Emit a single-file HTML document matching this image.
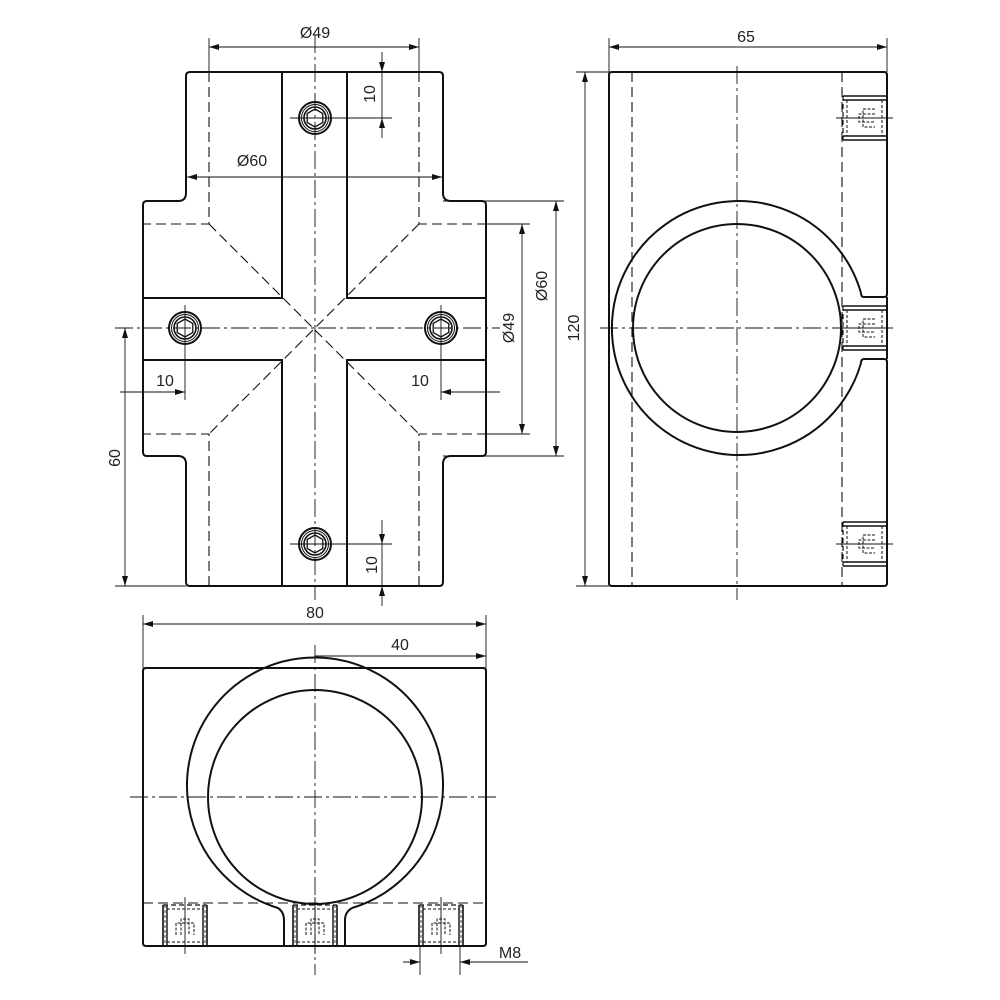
<!DOCTYPE html>
<html><head><meta charset="utf-8"><style>html,body{margin:0;padding:0;background:#fff}svg{display:block}</style></head>
<body>
<svg width="1000" height="1000" viewBox="0 0 1000 1000" xmlns="http://www.w3.org/2000/svg" font-family="Liberation Sans, sans-serif">
<defs>
<marker id="a" viewBox="0 0 10 6" refX="10" refY="3" markerWidth="10" markerHeight="6" orient="auto-start-reverse" markerUnits="userSpaceOnUse"><path d="M0,0L10,3L0,6z" fill="#111"/></marker>
<g id="bolt">
<circle r="16" fill="none" stroke="#111" stroke-width="2"/>
<circle r="13.5" fill="none" stroke="#111" stroke-width="1"/>
<circle r="11" fill="none" stroke="#111" stroke-width="1.6"/>
<polygon points="0,-9 7.8,-4.5 7.8,4.5 0,9 -7.8,4.5 -7.8,-4.5" fill="none" stroke="#111" stroke-width="1.3"/>
</g>
<g id="thrV" stroke="#111" fill="none">
<line x1="-22" y1="-20" x2="22" y2="-20" stroke-width="1.2" stroke-dasharray="5,3"/>
<line x1="-22" y1="-20" x2="-22" y2="21" stroke-width="1.6"/>
<line x1="22" y1="-20" x2="22" y2="21" stroke-width="1.6"/>
<line x1="-18" y1="-20" x2="-18" y2="21" stroke-width="1.4"/>
<line x1="18" y1="-20" x2="18" y2="21" stroke-width="1.4"/>
<line x1="-20" y1="-20" x2="-20" y2="21" stroke-width="0.8" stroke-dasharray="3,2"/>
<line x1="20" y1="-20" x2="20" y2="21" stroke-width="0.8" stroke-dasharray="3,2"/>
<line x1="-18" y1="-16" x2="18" y2="-16" stroke-width="1" stroke-dasharray="3,2"/>
<line x1="-18" y1="17" x2="18" y2="17" stroke-width="1" stroke-dasharray="3,2"/>
<path d="M-9,10V-2H9V10M-4,10V-6H4V10M0,-9V-3" stroke-width="1" stroke-dasharray="3,1.5"/>
<line x1="0" y1="-28" x2="0" y2="29" stroke-width="0.9"/>
</g>
<g id="thrH" stroke="#111" fill="none">
<line x1="-22" y1="-22" x2="-22" y2="22" stroke-width="1.2" stroke-dasharray="5,3"/>
<line x1="-22" y1="-22" x2="22" y2="-22" stroke-width="1.6"/>
<line x1="-22" y1="22" x2="22" y2="22" stroke-width="1.6"/>
<line x1="-22" y1="-18" x2="22" y2="-18" stroke-width="1.4"/>
<line x1="-22" y1="18" x2="22" y2="18" stroke-width="1.4"/>
<line x1="-18" y1="-18" x2="-18" y2="18" stroke-width="1" stroke-dasharray="3,2"/>
<line x1="17" y1="-18" x2="17" y2="18" stroke-width="1" stroke-dasharray="3,2"/>
<path d="M10,-9H-2V9H10M10,-4H-6V4H10M-9,0H-3" stroke-width="1" stroke-dasharray="3,1.5"/>
<line x1="-29" y1="0" x2="28" y2="0" stroke-width="0.9"/>
</g>
</defs>

<!-- FRONT VIEW -->
<g fill="none" stroke="#111">
<path d="M190,72H439Q443,72 443,76V193Q443,201 451,201H482Q486,201 486,205V452Q486,456 482,456H451Q443,456 443,464V582Q443,586 439,586H190Q186,586 186,582V464Q186,456 178,456H147Q143,456 143,452V205Q143,201 147,201H178Q186,201 186,193V76Q186,72 190,72Z" stroke-width="2"/>
<path d="M282,72V298H143M347,72V298H486M282,586V360H143M347,586V360H486" stroke-width="2"/>
<g stroke-width="1.1" stroke-dasharray="10,5">
<path d="M209,72V224H143M419,72V224H486M209,586V434H143M419,586V434H486"/>
<path d="M209,224L419,434M419,224L209,434"/>
</g>
<g stroke-width="0.9" stroke-dasharray="18,4,3,4">
<line x1="315" y1="35" x2="315" y2="600"/>
<line x1="115" y1="328" x2="500" y2="328"/>
</g>
<line x1="185" y1="305" x2="185" y2="400" stroke-width="0.9"/>
<line x1="441" y1="305" x2="441" y2="400" stroke-width="0.9"/>
<line x1="290" y1="118" x2="392" y2="118" stroke-width="0.9"/>
<line x1="290" y1="544" x2="392" y2="544" stroke-width="0.9"/>
</g>
<use href="#bolt" x="315" y="118"/>
<use href="#bolt" x="185" y="328"/>
<use href="#bolt" x="441" y="328"/>
<use href="#bolt" x="315" y="544"/>

<!-- front dims -->
<g stroke="#111" stroke-width="0.9" fill="none">
<line x1="209" y1="38" x2="209" y2="72"/><line x1="419" y1="38" x2="419" y2="72"/>
<line x1="209" y1="47" x2="419" y2="47" marker-start="url(#a)" marker-end="url(#a)"/>
<line x1="187" y1="177" x2="442" y2="177" marker-start="url(#a)" marker-end="url(#a)"/>
<line x1="382" y1="52" x2="382" y2="72" marker-end="url(#a)"/>
<line x1="382" y1="138" x2="382" y2="118" marker-end="url(#a)"/>
<line x1="382" y1="72" x2="382" y2="118"/>
<line x1="382" y1="520" x2="382" y2="544" marker-end="url(#a)"/>
<line x1="382" y1="606" x2="382" y2="586" marker-end="url(#a)"/>
<line x1="382" y1="544" x2="382" y2="586"/>
<line x1="120" y1="392" x2="185" y2="392" marker-end="url(#a)"/>
<line x1="500" y1="392" x2="441" y2="392" marker-end="url(#a)"/>
<line x1="486" y1="224" x2="530" y2="224"/><line x1="486" y1="434" x2="530" y2="434"/>
<line x1="522" y1="224" x2="522" y2="434" marker-start="url(#a)" marker-end="url(#a)"/>
<line x1="443" y1="201" x2="564" y2="201"/><line x1="443" y1="456" x2="564" y2="456"/>
<line x1="556" y1="201" x2="556" y2="456" marker-start="url(#a)" marker-end="url(#a)"/>
<line x1="115" y1="586" x2="186" y2="586"/>
<line x1="125" y1="328" x2="125" y2="586" marker-start="url(#a)" marker-end="url(#a)"/>
</g>
<g fill="#222" font-size="16" text-anchor="middle">
<text x="315" y="38">Ø49</text>
<text x="252" y="166">Ø60</text>
<text x="165" y="386">10</text>
<text x="420" y="386">10</text>
<text transform="translate(375,94) rotate(-90)">10</text>
<text transform="translate(377,565) rotate(-90)">10</text>
<text transform="translate(514,328) rotate(-90)">Ø49</text>
<text transform="translate(547,286) rotate(-90)">Ø60</text>
<text transform="translate(120,458) rotate(-90)">60</text>
</g>

<!-- SIDE VIEW -->
<g fill="none" stroke="#111">
<path d="M612,72H884Q887,72 887,75V294Q887,297 884,297H864Q861,297 861,293" stroke-width="2"/>
<path d="M609,75Q609,72 612,72M609,75V583Q609,586 612,586H884Q887,586 887,583V362Q887,359 884,359H864Q861,359 861,363M887,297V359" stroke-width="2"/>
<path d="M861,293A127,127 0 1 0 861,363" stroke-width="2"/>
<circle cx="737" cy="328" r="104" stroke-width="2"/>
<g stroke-width="1.1" stroke-dasharray="10,5">
<line x1="632" y1="72" x2="632" y2="586"/><line x1="842" y1="72" x2="842" y2="586"/>
</g>
<g stroke-width="0.9" stroke-dasharray="18,4,3,4">
<line x1="737" y1="66" x2="737" y2="600"/>
<line x1="600" y1="328" x2="893" y2="328"/>
</g>
<line x1="609" y1="38" x2="609" y2="72" stroke-width="0.9"/><line x1="887" y1="38" x2="887" y2="72" stroke-width="0.9"/>
<line x1="609" y1="47" x2="887" y2="47" stroke-width="0.9" marker-start="url(#a)" marker-end="url(#a)"/>
<line x1="576" y1="72" x2="609" y2="72" stroke-width="0.9"/><line x1="576" y1="586" x2="609" y2="586" stroke-width="0.9"/>
<line x1="585" y1="72" x2="585" y2="586" stroke-width="0.9" marker-start="url(#a)" marker-end="url(#a)"/>
</g>
<use href="#thrH" x="865" y="118"/>
<use href="#thrH" x="865" y="328"/>
<use href="#thrH" x="865" y="544"/>
<g fill="#222" font-size="16" text-anchor="middle">
<text x="746" y="42">65</text>
<text transform="translate(579,328) rotate(-90)">120</text>
</g>

<!-- BOTTOM VIEW -->
<g fill="none" stroke="#111">
<path d="M146,668H483Q486,668 486,671V943Q486,946 483,946H146Q143,946 143,943V671Q143,668 146,668Z" stroke-width="2"/>
<path d="M352,908Q345,912 345,920V946M278,908Q284,912 284,920V946" stroke-width="2"/>
<path d="M278,908A128,128 0 1 1 352,908" stroke-width="2"/>
<circle cx="315" cy="797" r="107" stroke-width="2"/>
<line x1="143" y1="903" x2="486" y2="903" stroke-width="1.1" stroke-dasharray="10,5"/>
<g stroke-width="0.9" stroke-dasharray="18,4,3,4">
<line x1="315" y1="645" x2="315" y2="975"/>
<line x1="130" y1="797" x2="496" y2="797"/>
</g>
<line x1="143" y1="615" x2="143" y2="668" stroke-width="0.9"/><line x1="486" y1="615" x2="486" y2="668" stroke-width="0.9"/>
<line x1="143" y1="624" x2="486" y2="624" stroke-width="0.9" marker-start="url(#a)" marker-end="url(#a)"/>
<line x1="315" y1="656" x2="486" y2="656" stroke-width="0.9" marker-end="url(#a)"/>
<line x1="420" y1="946" x2="420" y2="975" stroke-width="0.9"/><line x1="460" y1="946" x2="460" y2="975" stroke-width="0.9"/>
<line x1="403" y1="962" x2="420" y2="962" stroke-width="0.9" marker-end="url(#a)"/>
<line x1="528" y1="962" x2="460" y2="962" stroke-width="0.9" marker-end="url(#a)"/>
</g>
<use href="#thrV" x="185" y="925"/>
<use href="#thrV" x="315" y="925"/>
<use href="#thrV" x="441" y="925"/>
<g fill="#222" font-size="16" text-anchor="middle">
<text x="315" y="618">80</text>
<text x="400" y="650">40</text>
<text x="510" y="958">M8</text>
</g>
</svg>
</body></html>
